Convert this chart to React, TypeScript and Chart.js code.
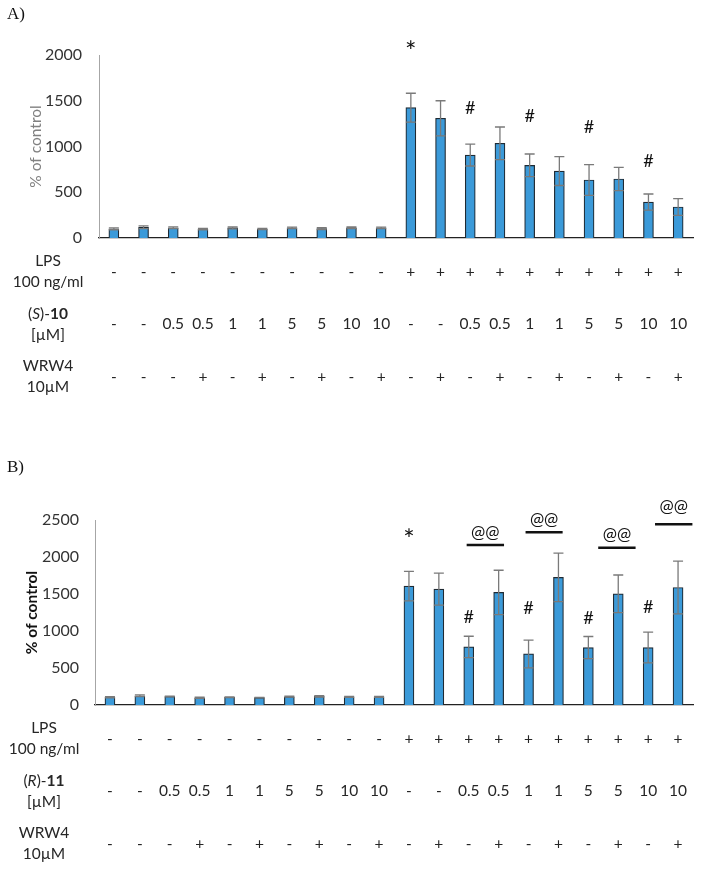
import React, { useEffect, useRef } from 'react';
import { Chart, registerables } from 'chart.js';

Chart.register(...registerables);

// ---------- data ----------
const lpsRow = ['-', '-', '-', '-', '-', '-', '-', '-', '-', '-', '+', '+', '+', '+', '+', '+', '+', '+', '+', '+'];
const doseRow = ['-', '-', '0.5', '0.5', '1', '1', '5', '5', '10', '10', '-', '-', '0.5', '0.5', '1', '1', '5', '5', '10', '10'];
const wrw4Row = ['-', '-', '-', '+', '-', '+', '-', '+', '-', '+', '-', '+', '-', '+', '-', '+', '-', '+', '-', '+'];
const categories = lpsRow.map((l, i) => `${l}/${doseRow[i]}/${wrw4Row[i]}`);

const meansA = [100, 118, 112, 98, 110, 98, 110, 103, 112, 110, 1424, 1308, 907, 1035, 794, 732, 634, 645, 393, 339];
const sdA = [10, 15, 10, 8, 10, 6, 8, 10, 8, 8, 158, 192, 120, 178, 124, 158, 168, 127, 88, 91];
const meansB = [105, 125, 115, 98, 105, 100, 112, 118, 110, 110, 1606, 1566, 785, 1521, 690, 1724, 776, 1502, 776, 1588];
const sdB = [8, 12, 6, 8, 5, 4, 6, 10, 6, 5, 200, 216, 144, 300, 187, 328, 150, 255, 208, 356];

const yMaxA = 2000;
const yMaxB = 2500;
const yStep = 500;

// significance marks: bar index, symbol, value (data units) of glyph centre
const marksA = [
  { i: 10, t: '*', v: 2025 },
  { i: 12, t: '#', v: 1424 },
  { i: 14, t: '#', v: 1344 },
  { i: 16, t: '#', v: 1224 },
  { i: 18, t: '#', v: 842 },
];
const marksB = [
  { i: 10, t: '*', v: 2219 },
  { i: 12, t: '#', v: 1191 },
  { i: 14, t: '#', v: 1313 },
  { i: 16, t: '#', v: 1177 },
  { i: 18, t: '#', v: 1326 },
];
// "@@" brackets: from/to in category index units, line value, text value
const bracketsB = [
  { from: 11.93, to: 13.18, lineV: 2161, textV: 2318 },
  { from: 13.9, to: 15.14, lineV: 2333, textV: 2499 },
  { from: 16.33, to: 17.58, lineV: 2124, textV: 2287 },
  { from: 18.23, to: 19.48, lineV: 2441, textV: 2666 },
];

const FONT = 'Lato, "Open Sans", "DejaVu Sans", sans-serif';
const SERIF = '"Liberation Serif", "DejaVu Serif", serif';

type Seg = { t: string; s: string };
type Cfg = {
  letter: string;
  letterY: number;
  means: number[];
  sds: number[];
  max: number;
  padTop: number;
  padBottom: number;
  left: number;
  tickPad: number;
  yTitleColor: string;
  yTitleWeight: string;
  compound: Seg[];
  marks: { i: number; t: string; v: number }[];
  brackets: { from: number; to: number; lineV: number; textV: number }[];
};

function drawSegs(ctx: CanvasRenderingContext2D, segs: Seg[], cx: number, cy: number, size: number) {
  const fonts = segs.map((s) => `${s.s} ${size}px ${FONT}`);
  const widths = segs.map((s, k) => {
    ctx.font = fonts[k];
    return ctx.measureText(s.t).width;
  });
  const total = widths.reduce((a, b) => a + b, 0);
  let x = cx - total / 2;
  ctx.textAlign = 'left';
  segs.forEach((s, k) => {
    ctx.font = fonts[k];
    ctx.fillText(s.t, x, cy);
    x += widths[k];
  });
}

function drawCentered(ctx: CanvasRenderingContext2D, t: string, x: number, yc: number) {
  const m = ctx.measureText(t);
  const yb = yc + (m.actualBoundingBoxAscent - m.actualBoundingBoxDescent) / 2;
  ctx.textAlign = 'center';
  ctx.textBaseline = 'alphabetic';
  ctx.fillText(t, x, yb);
}

function makeOverlay(cfg: Cfg) {
  return {
    id: 'overlay',
    afterDatasetsDraw(chart: any) {
      const ctx: CanvasRenderingContext2D = chart.ctx;
      const ys = chart.scales.y;
      const meta = chart.getDatasetMeta(0);
      ctx.save();
      // error bars
      ctx.strokeStyle = '#7a7a7a';
      ctx.lineWidth = 1.3;
      meta.data.forEach((el: any, i: number) => {
        const x = el.x;
        const yt = ys.getPixelForValue(cfg.means[i] + cfg.sds[i]);
        const yb = ys.getPixelForValue(cfg.means[i] - cfg.sds[i]);
        ctx.beginPath();
        ctx.moveTo(x, yt);
        ctx.lineTo(x, yb);
        ctx.moveTo(x - 5, yt);
        ctx.lineTo(x + 5, yt);
        ctx.moveTo(x - 5, yb);
        ctx.lineTo(x + 5, yb);
        ctx.stroke();
      });
      ctx.restore();
    },
    afterDraw(chart: any) {
      const ctx: CanvasRenderingContext2D = chart.ctx;
      const xs = chart.scales.x;
      const ys = chart.scales.y;
      const area = chart.chartArea;
      ctx.save();
      // panel letter
      ctx.fillStyle = '#111';
      ctx.font = `17px ${SERIF}`;
      ctx.textAlign = 'left';
      ctx.textBaseline = 'middle';
      ctx.fillText(cfg.letter, 7, cfg.letterY);

      // y title
      ctx.save();
      ctx.translate(area.left - 63, (area.top + area.bottom) / 2);
      ctx.rotate(-Math.PI / 2);
      ctx.fillStyle = cfg.yTitleColor;
      ctx.font = `${cfg.yTitleWeight} 15.5px ${FONT}`;
      ctx.textAlign = 'center';
      ctx.textBaseline = 'middle';
      ctx.fillText('% of control', 0, 0);
      ctx.restore();

      // table
      const rows: { l1: Seg[]; l2: string; vals: string[] }[] = [
        { l1: [{ t: 'LPS', s: '' }], l2: '100 ng/ml', vals: lpsRow },
        { l1: cfg.compound, l2: '[\u00b5M]', vals: doseRow },
        { l1: [{ t: 'WRW4', s: '' }], l2: '10\u00b5M', vals: wrw4Row },
      ];
      const labelX = area.left - 51;
      ctx.fillStyle = '#262626';
      ctx.textBaseline = 'middle';
      rows.forEach((r, k) => {
        const cy = area.bottom + 33.5 + k * 52.5;
        drawSegs(ctx, r.l1, labelX, cy - 10.5, 15.5);
        ctx.font = `15.5px ${FONT}`;
        ctx.textAlign = 'center';
        ctx.fillText(r.l2, labelX, cy + 10.5);
        r.vals.forEach((v, i) => {
          ctx.font = `15.5px ${FONT}`;
          ctx.textAlign = 'center';
          ctx.fillText(v, xs.getPixelForValue(i), cy);
        });
      });

      // marks
      ctx.fillStyle = '#111';
      cfg.marks.forEach((m) => {
        ctx.font = m.t === '*' ? `27px ${FONT}` : `18px ${FONT}`;
        drawCentered(ctx, m.t, xs.getPixelForValue(m.i), ys.getPixelForValue(m.v));
      });
      cfg.brackets.forEach((b) => {
        const x1 = xs.getPixelForValue(b.from);
        const x2 = xs.getPixelForValue(b.to);
        const yl = ys.getPixelForValue(b.lineV);
        ctx.strokeStyle = '#111';
        ctx.lineWidth = 2.5;
        ctx.beginPath();
        ctx.moveTo(x1, yl);
        ctx.lineTo(x2, yl);
        ctx.stroke();
        ctx.font = `17px ${FONT}`;
        drawCentered(ctx, '@@', (x1 + x2) / 2, ys.getPixelForValue(b.textV));
      });
      ctx.restore();
    },
  };
}

function Panel({ cfg, top, height }: { cfg: Cfg; top: number; height: number }) {
  const ref = useRef<HTMLCanvasElement>(null);
  useEffect(() => {
    const chart = new Chart(ref.current as HTMLCanvasElement, {
      type: 'bar',
      data: {
        labels: categories,
        datasets: [
          {
            data: cfg.means,
            backgroundColor: '#3b9ad9',
            borderColor: '#1f2a33',
            borderWidth: 1.2,
            barThickness: 10,
          } as any,
        ],
      },
      options: {
        responsive: false,
        animation: false,
        devicePixelRatio: 1,
        layout: { padding: { top: cfg.padTop, bottom: cfg.padBottom, left: 0, right: 11 } },
        plugins: { legend: { display: false }, tooltip: { enabled: false }, title: { display: false } },
        scales: {
          x: {
            grid: { display: false, drawTicks: false },
            border: { display: true, color: '#222', width: 1.3 },
            ticks: { display: false },
            afterFit: (s: any) => {
              s.height = 0;
            },
          },
          y: {
            min: 0,
            max: cfg.max,
            ticks: {
              stepSize: yStep,
              padding: cfg.tickPad,
              color: '#333',
              font: { family: FONT, size: 16 },
              callback: (v: any) => String(v),
            },
            grid: { display: false, drawTicks: false },
            border: { display: true, color: '#a6a6a6', width: 1 },
            afterFit: (s: any) => {
              s.width = cfg.left;
            },
          },
        },
      } as any,
      plugins: [makeOverlay(cfg) as any],
    });
    return () => chart.destroy();
  }, []);
  return (
    <canvas
      ref={ref}
      width={704}
      height={height}
      style={{ position: 'absolute', left: 0, top, width: 704, height }}
    />
  );
}

const cfgA: Cfg = {
  letter: 'A)',
  letterY: 15,
  means: meansA,
  sds: sdA,
  max: yMaxA,
  padTop: 55,
  padBottom: 197,
  left: 99,
  tickPad: 17,
  yTitleColor: '#808080',
  yTitleWeight: 'normal',
  compound: [
    { t: '(', s: '' },
    { t: 'S', s: 'italic' },
    { t: ')-', s: '' },
    { t: '10', s: 'bold' },
  ],
  marks: marksA,
  brackets: [],
};

const cfgB: Cfg = {
  letter: 'B)',
  letterY: 33,
  means: meansB,
  sds: sdB,
  max: yMaxB,
  padTop: 85,
  padBottom: 166,
  left: 95,
  tickPad: 16,
  yTitleColor: '#111',
  yTitleWeight: 'bold',
  compound: [
    { t: '(', s: '' },
    { t: 'R', s: 'italic' },
    { t: ')-', s: '' },
    { t: '11', s: 'bold' },
  ],
  marks: marksB,
  brackets: bracketsB,
};

export default function App() {
  return (
    <div style={{ position: 'absolute', left: 0, top: 0, width: 704, height: 871, background: '#fff' }}>
      <Panel cfg={cfgA} top={0} height={435} />
      <Panel cfg={cfgB} top={435} height={436} />
    </div>
  );
}
